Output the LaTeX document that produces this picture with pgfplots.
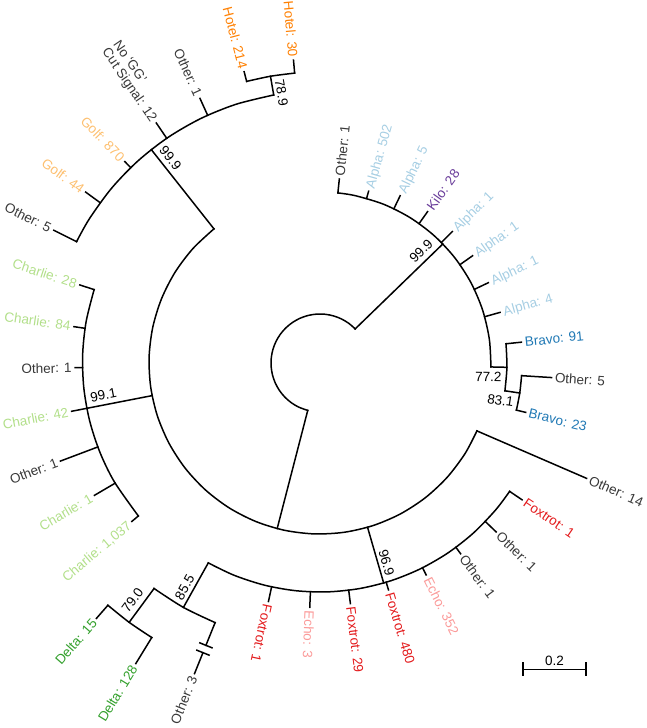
\documentclass[border=0pt]{standalone}
\usepackage{fontspec}
\setmainfont{Liberation Sans}
\usepackage{pgfplots}
\pgfplotsset{compat=1.18}
\usepgfplotslibrary{polar}
\definecolor{cAlpha}{HTML}{A6CEE3}
\definecolor{cBravo}{HTML}{1F78B4}
\definecolor{cCharlie}{HTML}{B2DF8A}
\definecolor{cDelta}{HTML}{33A02C}
\definecolor{cEcho}{HTML}{FB9A99}
\definecolor{cFox}{HTML}{E31A1C}
\definecolor{cGolf}{HTML}{FDBF6F}
\definecolor{cHotel}{HTML}{FF7F00}
\definecolor{cKilo}{HTML}{6A3D9A}
\definecolor{cOther}{HTML}{383838}
\pgfplotsset{tr/.style={color=black, line width=1.5pt, line cap=rect, data cs=polar, mark=none}}
\tikzset{lbl/.style={font=\fontsize{13.5}{16}\selectfont, text depth=0pt},
         bsl/.style={font=\fontsize{13.5}{16}\selectfont, text=black, anchor=center, inner sep=0pt}}
\newcommand{\R}[4]{\path (axis cs:0,0) ++(#1:#2pt) node[lbl,text=#3,rotate=#1,anchor=west]{#4};}
\newcommand{\Ll}[4]{\path (axis cs:0,0) ++(#1:#2pt) node[lbl,text=#3,rotate=#1-180,anchor=east]{#4};}
\newcommand{\BS}[4]{\path (axis cs:0,0) ++(#1:#2pt) node[bsl,rotate=#3]{#4};}
\begin{document}
\begin{tikzpicture}
\begin{axis}[x=1pt, y=1pt, xmin=-320, xmax=326, ymin=-365, ymax=363,
  hide axis, clip=false, scale only axis]
% ---- arcs ----
\addplot[tr, smooth] coordinates {(44.1,49) (54,49) (64,49) (74,49) (84,49) (94,49) (104,49) (114,49) (124,49) (134,49) (144,49) (154,49) (164,49) (174,49) (184,49) (194,49) (204,49) (214,49) (224,49) (234,49) (244,49) (255.5,49)};
\addplot[tr, smooth] coordinates {(-1.325,171) (8,171) (18,171) (28,171) (38,171) (48,171) (58,171) (68,171) (78,171) (84,171)};
\addplot[tr, smooth] coordinates {(128.33,171) (138,171) (148,171) (158,171) (168,171) (178,171) (188,171) (198,171) (208,171) (218,171) (228,171) (238,171) (248,171) (258,171) (268,171) (278,171) (288,171) (298,171) (308,171) (318,171) (328,171) (336.6,171)};
\addplot[tr, smooth] coordinates {(-8.55,187) (-1.325,187) (5.9,187)};
\addplot[tr, smooth] coordinates {(-13.5,202) (-8.55,202) (-3.6,202)};
\addplot[tr, smooth] coordinates {(99.8,272) (108,272) (116,272) (124,272) (132,272) (140,272) (148,272) (153.5,272)};
\addplot[tr, smooth] coordinates {(95,291) (99.8,291) (104.6,291)};
\addplot[tr, smooth] coordinates {(162,237.5) (170,237.5) (178,237.5) (186,237.5) (194,237.5) (202,237.5) (210,237.5) (220.1,237.5)};
\addplot[tr, smooth] coordinates {(240.8,229) (248,229) (256,229) (264,229) (272,229) (280,229) (288,229) (296,229) (304,229) (312,229) (320,229) (325.9,229)};
\addplot[tr, smooth] coordinates {(233.65,280) (240.8,280) (248,280)};
\addplot[tr, smooth] coordinates {(228.8,322) (233.65,322) (238.5,322)};
% ---- internal branches ----
\addplot[tr] coordinates {(44.1,49) (44.1,171)};
\addplot[tr] coordinates {(255.5,49) (255.5,171)};
\addplot[tr] coordinates {(-1.325,171) (-1.325,187)};
\addplot[tr] coordinates {(-8.55,187) (-8.55,202)};
\addplot[tr] coordinates {(128.33,171) (128.33,272)};
\addplot[tr] coordinates {(99.8,272) (99.8,291)};
\addplot[tr] coordinates {(191,171) (191,237.5)};
\addplot[tr] coordinates {(286.14,171) (286.14,229)};
\addplot[tr] coordinates {(240.8,229) (240.8,280)};
\addplot[tr] coordinates {(233.65,280) (233.65,322)};
% ---- leaves ----
\addplot[tr] coordinates {(-13.5,202) (-13.5,211.5)};
\addplot[tr] coordinates {(-3.6,202) (-3.6,232)};
\addplot[tr] coordinates {(5.9,187) (5.9,202.5)};
\addplot[tr] coordinates {(15.7,171) (15.7,187)};
\addplot[tr] coordinates {(25.5,171) (25.5,186.5)};
\addplot[tr] coordinates {(35.1,171) (35.1,186.5)};
\addplot[tr] coordinates {(44.8,171) (44.8,186.5)};
\addplot[tr] coordinates {(54.6,171) (54.6,185.7)};
\addplot[tr] coordinates {(64.4,171) (64.4,185.5)};
\addplot[tr] coordinates {(74.2,171) (74.2,178.5)};
\addplot[tr] coordinates {(84,171) (84,185)};
\addplot[tr] coordinates {(95,291) (95,304)};
\addplot[tr] coordinates {(104.6,291) (104.6,301)};
\addplot[tr] coordinates {(114.4,272) (114.4,290.5)};
\addplot[tr] coordinates {(124.3,272) (124.3,290.5)};
\addplot[tr] coordinates {(134.1,272) (134.1,280.5)};
\addplot[tr] coordinates {(143.9,272) (143.9,290)};
\addplot[tr] coordinates {(153.5,272) (153.5,297.5)};
\addplot[tr] coordinates {(162,237.5) (162,252.5)};
\addplot[tr] coordinates {(171.6,237.5) (171.6,248.7)};
\addplot[tr] coordinates {(181.1,237.5) (181.1,245)};
\addplot[tr] coordinates {(191,237.5) (191,253)};
\addplot[tr] coordinates {(200.7,237.5) (200.7,277.5)};
\addplot[tr] coordinates {(210.4,237.5) (210.4,261.5)};
\addplot[tr] coordinates {(220.1,237.5) (220.1,246)};
\addplot[tr] coordinates {(228.8,322) (228.8,339.5)};
\addplot[tr] coordinates {(238.5,322) (238.5,352.5)};
\addplot[tr] coordinates {(248,280) (248,304.6)};
\addplot[tr] coordinates {(248,312.5) (248,335)};
\addplot[tr] coordinates {(246.77,304.6) (249.23,304.6)};
\addplot[tr] coordinates {(246.8,312.5) (249.2,312.5)};
\addplot[tr] coordinates {(257.8,229) (257.8,244)};
\addplot[tr] coordinates {(267.6,229) (267.6,244.5)};
\addplot[tr] coordinates {(277.2,229) (277.2,242.5)};
\addplot[tr] coordinates {(286.8,229) (286.8,237)};
\addplot[tr] coordinates {(296.6,229) (296.6,237)};
\addplot[tr] coordinates {(306.4,229) (306.4,237)};
\addplot[tr] coordinates {(316.2,229) (316.2,244)};
\addplot[tr] coordinates {(325.9,229) (325.9,244)};
\addplot[tr] coordinates {(336.6,171) (336.6,290.5)};
% ---- scale bar ----
\addplot[tr, data cs=cart] coordinates {(203,-306.3) (266,-306.3)};
\addplot[tr, data cs=cart] coordinates {(203,-300) (203,-312.6)};
\addplot[tr, data cs=cart] coordinates {(266,-300) (266,-312.6)};
\node[bsl] at (axis cs:234.5,-297.5) {0.2};
% ---- leaf labels ----
\R{-13.5}{211.5}{cBravo}{Bravo: 23}
\R{-3.6}{232}{cOther}{Other: 5}
\R{5.9}{202.5}{cBravo}{Bravo: 91}
\R{15.7}{187}{cAlpha}{Alpha: 4}
\R{25.5}{186.5}{cAlpha}{Alpha: 1}
\R{35.1}{186.5}{cAlpha}{Alpha: 1}
\R{44.8}{186.5}{cAlpha}{Alpha: 1}
\R{54.6}{185.7}{cKilo}{Kilo: 28}
\R{64.4}{185.5}{cAlpha}{Alpha: 5}
\R{74.2}{178.5}{cAlpha}{Alpha: 502}
\R{84}{185}{cOther}{Other: 1}
\Ll{95}{304}{cHotel}{Hotel: 30}
\Ll{104.6}{301}{cHotel}{Hotel: 214}
\Ll{114.4}{290.5}{cOther}{Other: 1}
\path (axis cs:0,0) ++(124.3:290.5pt) node[lbl,text=cOther,rotate=-55.7,anchor=east] (cs) {Cut Signal: 12};
\node[lbl,text=cOther,rotate=-55.7,anchor=south west,inner ysep=0pt] at (cs.north west) {No `GG'};
\Ll{134.1}{280.5}{cGolf}{Golf: 870}
\Ll{143.9}{290}{cGolf}{Golf: 44}
\Ll{153.5}{297.5}{cOther}{Other: 5}
\Ll{162}{252.5}{cCharlie}{Charlie: 28}
\Ll{171.6}{248.7}{cCharlie}{Charlie: 84}
\Ll{181.1}{245}{cOther}{Other: 1}
\Ll{191}{253}{cCharlie}{Charlie: 42}
\Ll{200.7}{277.5}{cOther}{Other: 1}
\Ll{210.4}{261.5}{cCharlie}{Charlie: 1}
\Ll{220.1}{246}{cCharlie}{Charlie: 1,037}
\Ll{228.8}{339.5}{cDelta}{Delta: 15}
\Ll{238.5}{352.5}{cDelta}{Delta: 128}
\Ll{248}{335}{cOther}{Other: 3}
\R{257.8}{244}{cFox}{Foxtrot: 1}
\R{267.6}{244.5}{cEcho}{Echo: 3}
\R{277.2}{242.5}{cFox}{Foxtrot: 29}
\R{286.8}{237}{cFox}{Foxtrot: 480}
\R{296.6}{237}{cEcho}{Echo: 352}
\R{306.4}{237}{cOther}{Other: 1}
\R{316.2}{244}{cOther}{Other: 1}
\R{325.9}{244}{cFox}{Foxtrot: 1}
\R{336.6}{290.5}{cOther}{Other: 14}
% ---- support labels ----
\BS{48}{151}{44.1}{99.9}
\BS{-4.7}{169}{-1.3}{77.2}
\BS{-11.7}{184.3}{-8.55}{83.1}
\BS{126.1}{253.8}{-51.67}{99.9}
\BS{98.1}{273}{-80.2}{78.9}
\BS{188.45}{219}{11}{99.1}
\BS{288.4}{210.5}{-73.86}{96.9}
\BS{238.9}{262}{60.8}{85.5}
\BS{231.7}{302.5}{53.65}{79.0}
\end{axis}
\pgfresetboundingbox
\path[use as bounding box] (current axis.south west) rectangle (current axis.north east);
\end{tikzpicture}
\end{document}
